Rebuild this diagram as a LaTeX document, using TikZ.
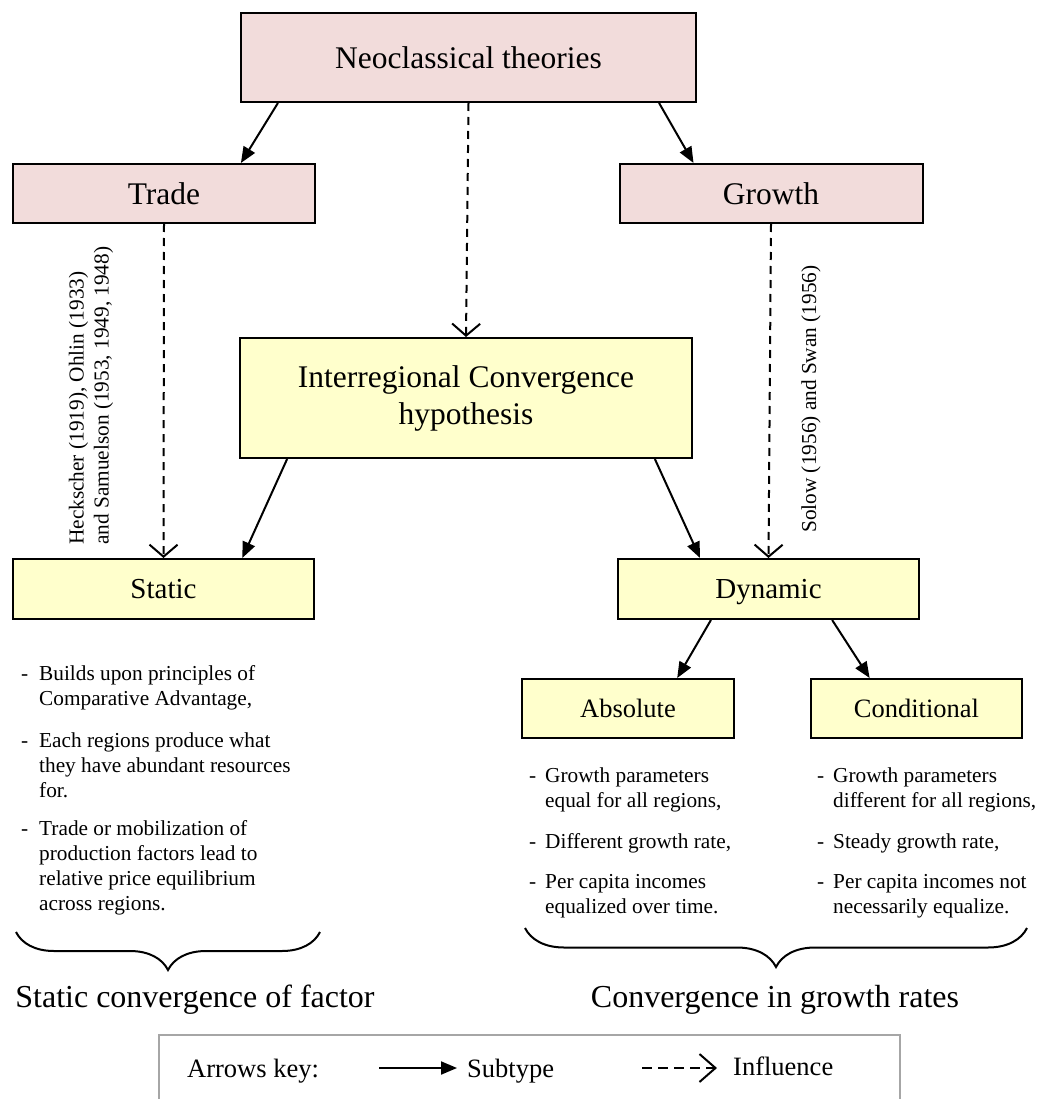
\documentclass[tikz,border=0pt]{standalone}
\usepackage{fontspec}
\setmainfont{Liberation Serif}
\usetikzlibrary{arrows.meta,calc,decorations.pathreplacing}
\definecolor{pinkfill}{HTML}{F2DCDB}
\definecolor{yellowfill}{HTML}{FFFFCC}
\definecolor{keygray}{HTML}{A6A6A6}
\newcommand\fs[2]{\fontsize{#1}{#2}\selectfont}
\newcommand\lines[1]{\begin{tabular}[t]{@{}l@{}}#1\end{tabular}}

\begin{document}
\begin{tikzpicture}[x=1pt,y=-1pt,
  box/.style={draw=black, line width=2pt, inner sep=0pt, align=center},
  oneline/.style={text height=#1, text depth=0pt},
  pinkbox/.style={box, fill=pinkfill},
  yellowbox/.style={box, fill=yellowfill},
  subtype/.style={line width=2pt, -{Triangle[length=16pt,width=13pt]}},
  influence/.style={line width=2pt, dash pattern=on 8pt off 6pt,
    -{Straight Barb[length=12pt,width=28pt,line width=2pt]}},
  keyinfluence/.style={line width=2pt, dash pattern=on 10pt off 6pt,
    -{Straight Barb[length=16pt,width=28pt,line width=2pt]}},
  note/.style={inner sep=0pt, font=\fs{21.3}{25}},
  dashmark/.style={note, anchor=base west},
  bullettext/.style={note, anchor=base west},
  summary/.style={inner sep=0pt, anchor=base, font=\fs{32}{38}},
  keytext/.style={inner sep=0pt, anchor=base west, font=\fs{26.5}{30}},
  brace/.style={line width=2pt, decorate, decoration={brace, mirror, amplitude=#1}}
]
\fill[white] (0,0) rectangle (1040,1099);
\useasboundingbox (0,0) rectangle (1040,1099);

% theory boxes
\node[pinkbox, oneline=21.4pt, minimum width=455pt, minimum height=89pt, font=\fs{31.5}{37}] (neo) at (468.5,57.5) {Neoclassical theories};
\node[pinkbox, oneline=21.4pt, minimum width=302pt, minimum height=59pt, font=\fs{31.5}{37}] (trade) at (164,193.5) {Trade};
\node[pinkbox, oneline=21.4pt, minimum width=303pt, minimum height=59pt, font=\fs{31.5}{37}] (growth) at (771,193.5) {Growth};

% hypothesis and its two forms
\node[yellowbox, minimum width=452pt, minimum height=120pt, font=\fs{31.5}{37}] (hyp) at (466,398) {Interregional Convergence\\hypothesis};
\node[yellowbox, oneline=19.7pt, minimum width=301pt, minimum height=60pt, font=\fs{29}{34}] (static) at (163.5,589) {Static};
\node[yellowbox, oneline=19.7pt, minimum width=301pt, minimum height=60pt, font=\fs{29}{34}] (dynamic) at (768.5,589) {Dynamic};
\node[yellowbox, oneline=18pt, minimum width=212pt, minimum height=59pt, font=\fs{26.5}{30}] (absolute) at (628,708.5) {Absolute};
\node[yellowbox, oneline=18pt, minimum width=211pt, minimum height=59pt, font=\fs{26.5}{30}] (conditional) at (916.5,708.5) {Conditional};

% subtype arrows
\draw[subtype] ($(neo.south west)!0.083!(neo.south east)$) -- ($(trade.north west)!0.753!(trade.north east)$);
\draw[subtype] ($(neo.south west)!0.917!(neo.south east)$) -- ($(growth.north west)!0.246!(growth.north east)$);
\draw[subtype] ($(hyp.south west)!0.106!(hyp.south east)$) -- ($(static.north west)!0.76!(static.north east)$);
\draw[subtype] ($(hyp.south west)!0.916!(hyp.south east)$) -- ($(dynamic.north west)!0.274!(dynamic.north east)$);
\draw[subtype] ($(dynamic.south west)!0.31!(dynamic.south east)$) -- ($(absolute.north west)!0.73!(absolute.north east)$);
\draw[subtype] ($(dynamic.south west)!0.71!(dynamic.south east)$) -- ($(conditional.north west)!0.28!(conditional.north east)$);

% influence arrows
\draw[influence] (neo.south) -- (hyp.north);
\draw[influence] (trade.south) -- (static.north);
\draw[influence] (growth.south) -- (dynamic.north);

% references along the influence arrows
\node[note, rotate=90, anchor=west] (heck) at (91,545) {\lines{Heckscher (1919), Ohlin (1933)\\and Samuelson (1953, 1949, 1948)}};
\node[note, rotate=90, anchor=west] (solow) at (811,533) {Solow (1956) and Swan (1956)};

% static convergence notes
\node[dashmark] (sd1) at (21,680) {-};
\node[bullettext] (st1) at (39,680) {\lines{Builds upon principles of\\Comparative Advantage,}};
\node[dashmark] (sd2) at (21,747) {-};
\node[bullettext] (st2) at (39,747) {\lines{Each regions produce what\\they have abundant resources\\for.}};
\node[dashmark] (sd3) at (21,835) {-};
\node[bullettext] (st3) at (39,835) {\lines{Trade or mobilization of\\production factors lead to\\relative price equilibrium\\across regions.}};

% absolute convergence notes
\node[dashmark] (ad1) at (529,782) {-};
\node[bullettext] (at1) at (545,782) {\lines{Growth parameters\\equal for all regions,}};
\node[dashmark] (ad2) at (529,848) {-};
\node[bullettext] (at2) at (545,848) {Different growth rate,};
\node[dashmark] (ad3) at (529,888) {-};
\node[bullettext] (at3) at (545,888) {\lines{Per capita incomes\\equalized over time.}};

% conditional convergence notes
\node[dashmark] (cd1) at (817,782) {-};
\node[bullettext] (ct1) at (833,782) {\lines{Growth parameters\\different for all regions,}};
\node[dashmark] (cd2) at (817,848) {-};
\node[bullettext] (ct2) at (833,848) {Steady growth rate,};
\node[dashmark] (cd3) at (817,888) {-};
\node[bullettext] (ct3) at (833,888) {\lines{Per capita incomes not\\necessarily equalize.}};

% braces and summaries
\coordinate (lbA) at (16,932);
\coordinate (lbB) at (320,932);
\coordinate (rbA) at (525,928);
\coordinate (rbB) at (1027,928);
\draw[brace=38pt] (lbA) -- (lbB);
\draw[brace=39pt] (rbA) -- (rbB);
\node[summary] (sumstatic) at (195,1007) {Static convergence of factor};
\node[summary] (sumdynamic) at (775,1007) {Convergence in growth rates};

% arrows key
\draw[keygray, line width=2pt] (159,1105) -- (159,1035) -- (900,1035) -- (900,1105);
\node[keytext] (keylabel) at (187,1077) {Arrows key:};
\coordinate (ks1) at (379,1068);
\coordinate (ks2) at (457,1068);
\draw[subtype] (ks1) -- (ks2);
\node[keytext] (keysub) at (467,1077) {Subtype};
\coordinate (ki1) at (642,1068);
\coordinate (ki2) at (717,1068);
\draw[keyinfluence] (ki1) -- (ki2);
\node[keytext] (keyinf) at (733,1075) {Influence};
\end{tikzpicture}
\end{document}
